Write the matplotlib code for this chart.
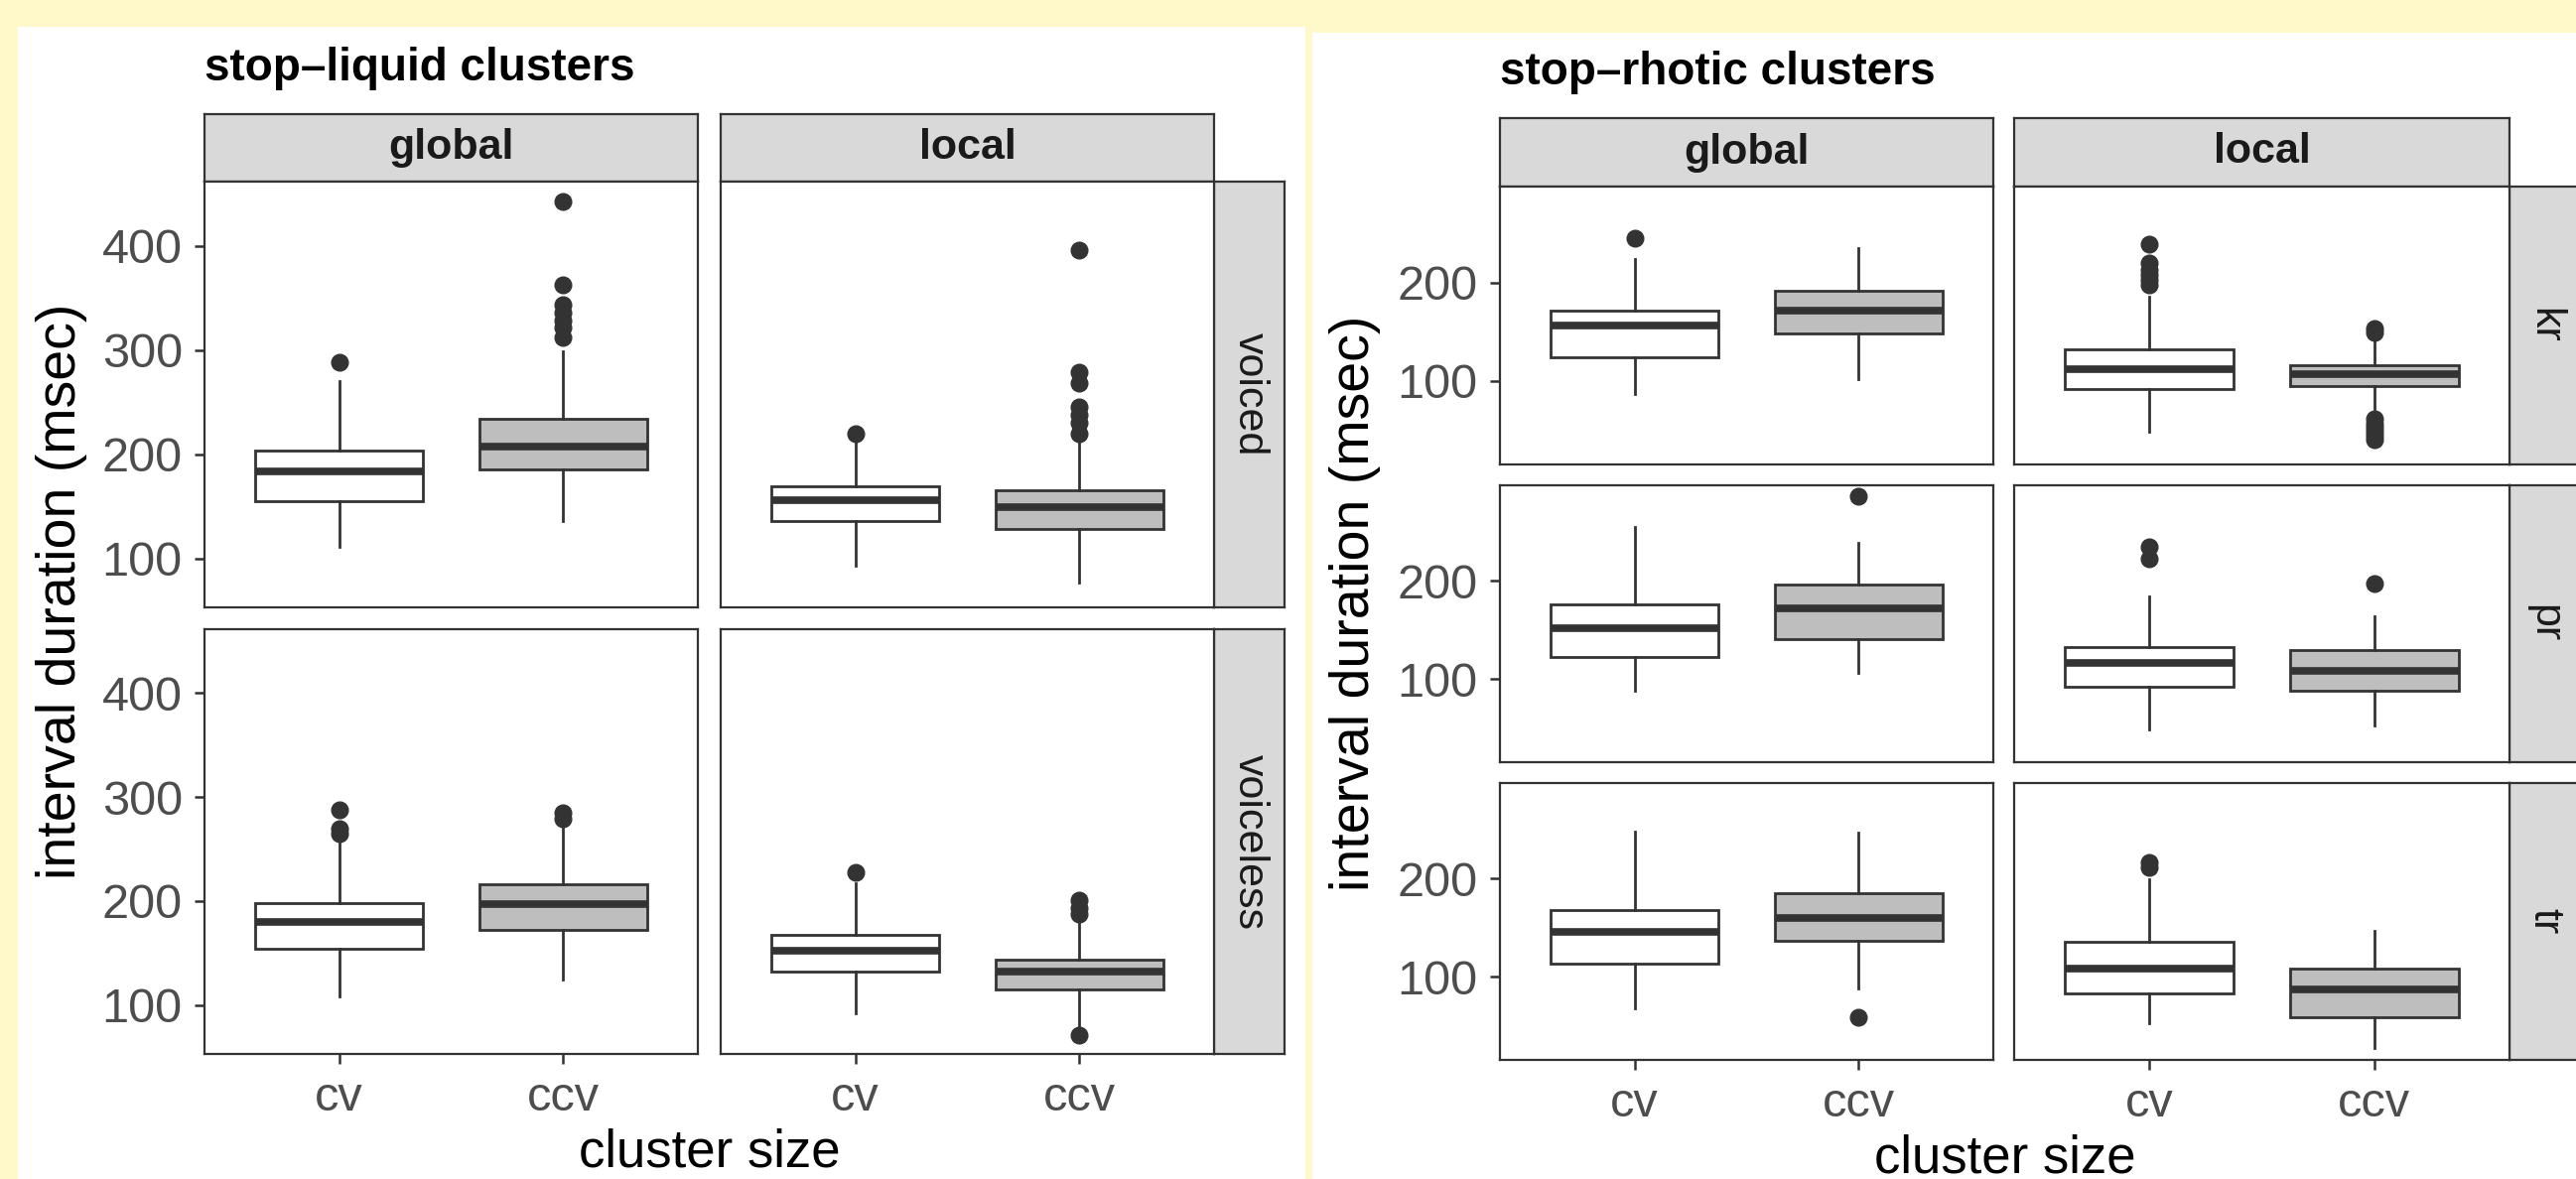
import matplotlib.pyplot as plt
from matplotlib.patches import Rectangle

W, H = 2595, 1188
DPI = 100

plt.rcParams['font.family'] = ['Liberation Sans', 'DejaVu Sans']

# Categories
SIZES = ["cv", "ccv"]
COLS = ["global", "local"]

# stop-liquid clusters; per row: global cv, global ccv, local cv, local ccv
LIQ_ROWS = ["voiced", "voiceless"]
liq_q1 = [[155, 185, 136, 128], [154, 172, 132, 115]]
liq_med = [[183, 207, 156, 149], [180, 197, 152, 132]]
liq_q3 = [[203, 234, 169, 165], [198, 216, 168, 144]]
liq_wlo = [[111, 136, 93, 77], [108, 125, 92, 80]]
liq_whi = [[270, 299, 212, 212], [259, 274, 217, 185]]
liq_out = [[[288], [312, 322, 328, 336, 343, 362, 442], [220],
            [220, 230, 238, 245, 268, 279, 396]],
           [[265, 270, 288], [279, 285], [228], [71, 188, 193, 201]]]
liq_yticks = [100, 200, 300, 400]

# stop-rhotic clusters
RHO_ROWS = ["kr", "pr", "tr"]
rho_q1 = [[124, 148, 92, 95], [122, 141, 92, 88], [113, 136, 83, 59]]
rho_med = [[156, 171, 112, 107], [152, 172, 116, 108], [146, 160, 108, 87]]
rho_q3 = [[171, 192, 132, 116], [176, 196, 132, 129], [168, 185, 135, 108]]
rho_wlo = [[87, 102, 48, 71], [88, 106, 48, 52], [68, 88, 52, 27]]
rho_whi = [[224, 235, 186, 140], [255, 239, 184, 164], [248, 247, 199, 147]]
rho_out = [[[245], [], [198, 203, 208, 213, 220, 239], [40, 44, 48, 52, 56, 61, 149, 153]],
           [[], [286], [223, 235], [197]],
           [[], [59], [211, 216], []]]
rho_yticks = [100, 200]

DARK = '#333333'
FILLS = ['white', '#BEBEBE']
STRIP = '#D9D9D9'
BG = '#FFF9CA'


def px_axes(fig, x0, y0, x1, y1):
    return fig.add_axes([x0 / W, 1 - y1 / H, (x1 - x0) / W, (y1 - y0) / H])


def strip(fig, box, label, rot, bold):
    ax = px_axes(fig, *box)
    ax.set_facecolor(STRIP)
    ax.set_xticks([])
    ax.set_yticks([])
    for s in ax.spines.values():
        s.set_color(DARK)
        s.set_linewidth(1.6)
    ax.text(0.5, 0.5, label, transform=ax.transAxes, ha='center', va='center',
            rotation=rot, fontsize=31, color='#1A1A1A',
            fontweight='bold' if bold else 'normal')


def draw_chart(fig, g, title, rows, q1, med, q3, wlo, whi, out, yticks, ylim):
    # white card behind everything
    fig.patches.append(Rectangle((g['card'][0] / W, 0), (g['card'][1] - g['card'][0]) / W,
                                 1 - g['card'][2] / H, transform=fig.transFigure,
                                 facecolor='white', edgecolor='none', zorder=-10))
    fig.text(g['px'][0][0] / W, 1 - g['title_y'] / H, title, fontsize=33,
             fontweight='bold', ha='left', va='baseline')
    top = g['strip_y']
    for j, c in enumerate(COLS):
        strip(fig, (g['px'][j][0], top[0], g['px'][j][1], top[1]), c, 0, True)
    for i, r in enumerate(rows):
        y0, y1 = g['py'][i]
        strip(fig, (g['px'][1][1], y0, g['px'][1][1] + 71, y1), r, -90, False)
        for j in range(2):
            ax = px_axes(fig, g['px'][j][0], y0, g['px'][j][1], y1)
            stats = []
            for k in range(2):
                n = 2 * j + k
                stats.append(dict(med=med[i][n], q1=q1[i][n], q3=q3[i][n],
                                  whislo=wlo[i][n], whishi=whi[i][n], fliers=out[i][n]))
            bp = ax.bxp(stats, positions=[1, 2], widths=0.75, patch_artist=True,
                        showcaps=False,
                        boxprops=dict(edgecolor=DARK, linewidth=2.0),
                        whiskerprops=dict(color=DARK, linewidth=2.0),
                        medianprops=dict(color=DARK, linewidth=5.5, solid_capstyle='butt'),
                        flierprops=dict(marker='o', markerfacecolor=DARK,
                                        markeredgecolor=DARK, markersize=12))
            for patch, fc in zip(bp['boxes'], FILLS):
                patch.set_facecolor(fc)
            ax.set_xlim(0.4, 2.6)
            ax.set_ylim(*ylim)
            ax.set_yticks(yticks)
            ax.set_xticks([1, 2])
            ax.tick_params(color=DARK, width=1.8, length=7, pad=9,
                           labelsize=35, labelcolor='#4D4D4D')
            for s in ax.spines.values():
                s.set_color(DARK)
                s.set_linewidth(1.6)
            if j > 0:
                ax.tick_params(axis='y', left=False, labelleft=False)
            if i < len(rows) - 1:
                ax.tick_params(axis='x', bottom=False, labelbottom=False)
            else:
                ax.set_xticklabels(SIZES)
    fig.text(g['ylab_x'] / W, 1 - g['ylab_y'] / H,
             'interval duration (msec)', rotation=90, fontsize=40,
             ha='center', va='center')
    fig.text((g['px'][0][0] + g['px'][1][1]) / 2 / W, 1 - g['xlab_y'] / H,
             'cluster size', fontsize=38, ha='center', va='center')


fig = plt.figure(figsize=(W / DPI, H / DPI), dpi=DPI, facecolor=BG)

liq_geom = dict(card=(18, 1315, 27), title_y=81, strip_y=(115, 183),
                px=[(206, 703), (726, 1223)],
                py=[(183, 612), (634, 1062)], ylab_x=62, ylab_y=596, xlab_y=1162)
rho_geom = dict(card=(1322, 2595, 33), title_y=85, strip_y=(119, 188),
                px=[(1511, 2008), (2029, 2528)],
                py=[(188, 468), (489, 768), (789, 1068)], ylab_x=1365, ylab_y=608,
                xlab_y=1168)

draw_chart(fig, liq_geom, 'stop\u2013liquid clusters', LIQ_ROWS, liq_q1, liq_med, liq_q3,
           liq_wlo, liq_whi, liq_out, liq_yticks, (53, 461.5))
draw_chart(fig, rho_geom, 'stop\u2013rhotic clusters', RHO_ROWS, rho_q1, rho_med, rho_q3,
           rho_wlo, rho_whi, rho_out, rho_yticks, (15, 297.5))

fig.savefig('out.png', dpi=DPI, facecolor=BG)
